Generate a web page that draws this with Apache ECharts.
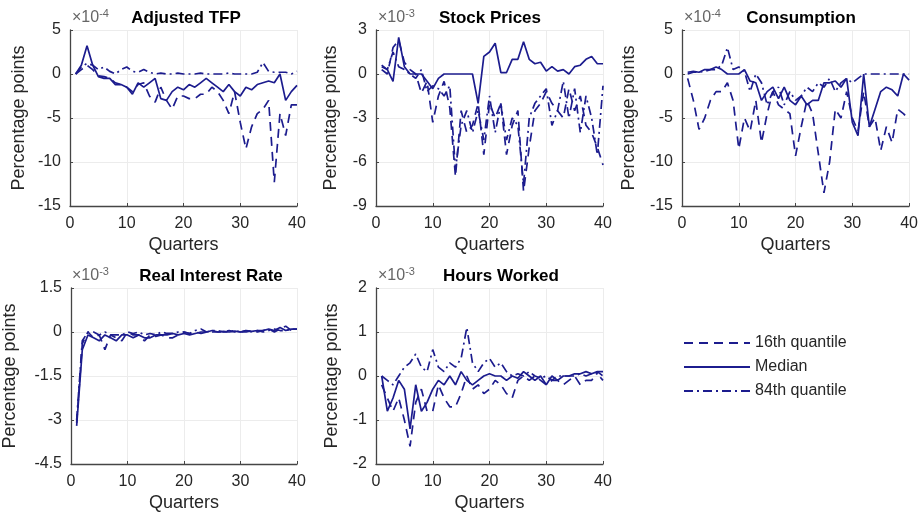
<!DOCTYPE html>
<html>
<head>
<meta charset="utf-8">
<script src="https://cdn.jsdelivr.net/npm/echarts@6/dist/echarts.min.js"></script>
<style>
html,body{margin:0;padding:0;background:#fff;}
#chart{width:921px;height:520px;}
</style>
</head>
<body>
<div id="chart"></div>
<script>
// ---------- data (in units of the axis multiplier) ----------
const quarters = [1,2,3,4,5,6,7,8,9,10,11,12,13,14,15,16,17,18,19,20,21,22,23,24,25,26,27,28,29,30,31,32,33,34,35,36,37,38,39,40];

const seriesNames = ['16th quantile', 'Median', '84th quantile'];
const panelTitles = ['Adjusted TFP', 'Stock Prices', 'Consumption', 'Real Interest Rate', 'Hours Worked'];
const panelExponents = ['-4', '-3', '-4', '-3', '-3'];
const yMins = [-15, -9, -15, -4.5, -2];
const yMaxs = [5, 3, 5, 1.5, 2];
const yIntervals = [5, 3, 5, 1.5, 1];
const xTicks = [0, 10, 20, 30, 40];

// Adjusted TFP (x1e-4)
const tfp16  = [0,0.5,1.0,0.5,-0.2,-0.3,-0.5,-1.0,-1.2,-1.5,-2.0,-1.2,-1.0,-2.5,-3.2,-1.5,-3.0,-4.0,-2.5,-2.5,-2.8,-2.8,-2.3,-2.3,-1.5,-2.0,-3.0,-4.5,-2.0,-5.5,-8.5,-6.0,-4.5,-4.0,-3.0,-12.3,-4.5,-7.0,-3.5,-3.5];
const tfpMed = [0,1.0,3.2,1.0,-0.3,-0.5,-0.5,-1.2,-1.2,-1.5,-2.3,-1.0,-1.5,-1.0,-0.5,-2.8,-3.0,-2.0,-1.5,-1.8,-1.2,-1.5,-1.0,-0.5,-1.0,-1.5,-2.0,-1.2,-2.0,-2.5,-1.5,-1.8,-1.2,-1.0,-0.8,-1.0,0.0,-3.0,-2.0,-1.3];
const tfp84  = [0,0.8,1.2,1.0,0.5,0.8,0.3,0,0.5,0.8,0.3,0.2,0.5,0.2,0,0.1,0,0,0.1,0,0,0,0.1,0,0,0,0,0.1,0,0,0,0,0.2,1.3,0.3,0.2,0.2,0.2,0,0.3];

// Stock Prices (x1e-3)
const stock16  = [0.3,0,1.8,2.3,0.8,0.3,0,-1.3,-0.5,-3.3,-1.5,-0.5,-2.3,-7.0,-2.5,-4.0,-3.5,-2.0,-5.5,-2.0,-3.0,-2.0,-5.5,-3.5,-2.5,-8.0,-5.0,-2.5,-2.0,-1.2,-2.0,-2.5,-3.0,-1.0,-2.5,-1.5,-3.5,-4.0,-5.0,-6.2];
const stockMed = [0.6,0.3,-0.5,2.5,0.5,0,0,0,-0.5,-1.0,-0.3,0,0,0,0,0,0,-2.0,1.2,1.5,2.1,0.1,0.1,1.0,1.0,2.2,1.0,0.7,0.8,0.2,0.5,0.2,0.3,0,0.5,0.6,1.0,1.2,0.7,0.7];
const stock84  = [0.5,0.3,1.5,0.5,0.3,0,-0.3,0.3,-1.2,-0.8,-1.0,-1.5,-0.8,-6.5,-3.5,-2.5,-4.0,-2.5,-4.5,-1.5,-4.0,-2.0,-4.5,-3.0,-3.5,-7.5,-3.0,-2.0,-1.5,-1.0,-3.5,-2.5,-0.5,-3.0,-1.0,-4.0,-1.5,-3.0,-5.5,-0.8];

// Consumption (x1e-4)
const cons16  = [-0.5,-3.0,-6.3,-5.0,-3.0,-2.0,-2.0,-1.0,-3.0,-8.5,-5.0,-6.5,-3.0,-7.8,-4.5,-2.0,-3.5,-4.0,-4.5,-9.3,-6.0,-3.0,-4.5,-9.0,-13.5,-10.0,-4.0,-5.0,-2.0,-5.0,-6.5,-2.0,-6.0,-5.0,-8.7,-6.0,-7.8,-4.0,-4.5,-5.2];
const consMed = [0.2,0.3,0.2,0.5,0.5,0.8,0.5,0,0,0,0.5,-0.8,-1.0,-3.0,-2.0,-1.5,-2.8,-1.5,-3.0,-3.5,-2.5,-3.5,-3.0,-3.0,-1.0,-1.0,-0.8,-1.5,-0.5,-5.5,-7.0,0,-6.0,-4.0,-2.0,-1.5,-1.8,-2.5,0,-0.7];
const cons84  = [0,0.2,0.2,0.3,0.5,0.5,1.0,3.0,0.5,0.8,0.3,-2.0,0,-1.0,-3.5,-2.0,-1.5,-3.5,-2.0,-3.0,-2.5,-1.5,-2.0,-1.0,-1.5,-0.5,-2.0,-1.0,-0.5,-1.0,-0.5,0,0,0,0,0,0,0,0,0];

// Real Interest Rate (x1e-3)
const rate16  = [-3.1,-0.4,0,-0.2,-0.1,-0.6,-0.1,-0.2,-0.3,0,-0.1,-0.1,-0.3,-0.1,-0.15,-0.1,-0.2,-0.2,-0.1,0,-0.05,0,-0.05,0,0,0,0,0.05,0,0,0,0.05,0,0.05,0.1,0,0.1,0.2,0.05,0.1];
const rateMed = [-3.2,-0.6,-0.1,-0.2,-0.3,-0.1,-0.2,-0.3,-0.1,-0.1,-0.2,-0.1,-0.2,-0.2,-0.1,-0.1,-0.1,-0.05,-0.1,-0.05,-0.1,-0.05,0,0,0.05,0,0.02,0,0.03,0,0.05,0.02,0.05,0.05,0.1,0.05,0.15,0.05,0.1,0.1];
const rate84  = [-3.0,-0.3,0,0,-0.1,0,-0.1,-0.1,-0.1,0,-0.05,0,-0.1,-0.05,-0.1,0,-0.05,-0.05,0,0,-0.05,0.05,0.1,0,0.05,0.05,0,0,0.05,0,0.05,0,0.05,0,0.05,0.1,0.05,0.05,0.1,0.1];

// Hours Worked (x1e-3)
const hours16  = [-0.2,-0.5,-0.8,-0.5,-1.0,-1.6,-0.6,-0.3,-0.8,-0.8,-0.2,-0.5,-0.7,-0.7,-0.4,0,-0.3,-0.2,-0.4,-0.3,-0.1,-0.2,-0.4,-0.5,-0.1,0,-0.1,0,-0.1,-0.2,-0.1,-0.1,-0.2,-0.1,0,-0.2,-0.1,-0.1,0.1,0];
const hoursMed = [0,-0.8,-0.5,-0.1,-0.3,-1.2,-0.2,-0.8,-0.6,-0.3,-0.1,-0.2,0,-0.2,0.1,-0.1,-0.2,-0.1,0,0.05,0,0,-0.1,0,-0.05,0.1,0,-0.1,0,-0.2,0,-0.1,0,0,0.05,0.05,0.1,0.05,0.1,0.1];
const hours84  = [0,-0.1,-0.2,0,0.2,0.3,0.5,0.2,0.1,0.6,0.2,0.1,0.3,0.2,0.4,1.1,0.3,0.1,0.3,0.4,0.2,0.3,0.1,0,0.05,0,0.1,0,-0.05,0,-0.1,0,0,0,0,0.05,0,0.05,0.05,-0.1];

const panelData = [
  [tfp16, tfpMed, tfp84],
  [stock16, stockMed, stock84],
  [cons16, consMed, cons84],
  [rate16, rateMed, rate84],
  [hours16, hoursMed, hours84]
];

// ---------- layout & style ----------
const FONT = '"Liberation Sans", Arial, Helvetica, sans-serif';
const LINE_COLOR = '#1c1c8e';
const AXIS_COLOR = '#454545';
const TEXT_COLOR = '#262626';
const layout = [
  {left: 70,  top: 30,  width: 227, height: 176, nameGap: 42, titleX: 186},
  {left: 376, top: 30,  width: 227, height: 176, nameGap: 36, titleX: 490},
  {left: 682, top: 30,  width: 228, height: 176, nameGap: 44, titleX: 801},
  {left: 70,  top: 288, width: 227, height: 176, nameGap: 52, titleX: 211},
  {left: 376, top: 288, width: 227, height: 176, nameGap: 35, titleX: 501}
];
const lineTypes = [[9, 6], 'solid', [9, 4, 2, 4]];

const grids = [], xAxes = [], yAxes = [], series = [], titles = [];
layout.forEach((g, i) => {
  grids.push({left: g.left, top: g.top, width: g.width, height: g.height, containLabel: false});
  xAxes.push({
    type: 'value', gridIndex: i, min: xTicks[0], max: xTicks[xTicks.length - 1], interval: 10,
    name: 'Quarters', nameLocation: 'middle', nameGap: 30,
    nameTextStyle: {fontFamily: FONT, fontSize: 18, color: TEXT_COLOR},
    axisLine: {show: true, onZero: false, lineStyle: {color: AXIS_COLOR, width: 1.3}},
    axisTick: {show: true, inside: true, length: 3, lineStyle: {color: AXIS_COLOR}},
    axisLabel: {fontFamily: FONT, fontSize: 16, color: TEXT_COLOR, margin: 10},
    splitLine: {show: true, lineStyle: {color: '#ececec', width: 1}}
  });
  yAxes.push({
    type: 'value', gridIndex: i, min: yMins[i], max: yMaxs[i], interval: yIntervals[i],
    name: 'Percentage points', nameLocation: 'middle', nameGap: g.nameGap, nameRotate: 90,
    nameTextStyle: {fontFamily: FONT, fontSize: 18, color: TEXT_COLOR},
    axisLine: {show: true, onZero: false, lineStyle: {color: AXIS_COLOR, width: 1.3}},
    axisTick: {show: true, inside: true, length: 3, lineStyle: {color: AXIS_COLOR}},
    axisLabel: {fontFamily: FONT, fontSize: 16, color: TEXT_COLOR, margin: 9},
    splitLine: {show: true, lineStyle: {color: '#ececec', width: 1}}
  });
  panelData[i].forEach((vals, k) => {
    series.push({
      name: seriesNames[k], type: 'line', xAxisIndex: i, yAxisIndex: i,
      data: quarters.map((q, j) => [q, vals[j]]),
      symbol: 'none', animation: false,
      lineStyle: {color: LINE_COLOR, width: 1.7, type: lineTypes[k]},
      itemStyle: {color: LINE_COLOR}
    });
  });
  titles.push({
    text: panelTitles[i], left: g.titleX, top: g.top - 20, textAlign: 'center', padding: 0,
    textStyle: {fontFamily: FONT, fontSize: 17, fontWeight: 'bold', color: '#000'}
  });
  titles.push({
    text: '{a|\u00d710}{b|' + panelExponents[i] + '}', left: g.left + 2, top: g.top - 22, padding: 0,
    textStyle: {fontWeight: 'normal', rich: {
      a: {fontFamily: FONT, fontSize: 16, fontWeight: 'normal', color: '#666666', verticalAlign: 'bottom', lineHeight: 18},
      b: {fontFamily: FONT, fontSize: 11, fontWeight: 'normal', color: '#666666', verticalAlign: 'top', padding: [0, 0, 6, 0], lineHeight: 18}
    }}
  });
});

const chart = echarts.init(document.getElementById('chart'), null, {renderer: 'canvas'});
chart.setOption({
  backgroundColor: '#ffffff',
  animation: false,
  title: titles,
  grid: grids,
  xAxis: xAxes,
  yAxis: yAxes,
  series: series,
  legend: {
    data: seriesNames, orient: 'vertical', left: 683, top: 335,
    itemWidth: 66, itemHeight: 14, itemGap: 8, padding: 0,
    itemStyle: {color: 'rgba(0,0,0,0)', borderWidth: 0, opacity: 0},
    textStyle: {fontFamily: FONT, fontSize: 16, color: TEXT_COLOR},
    selectedMode: false
  }
});
</script>
</body>
</html>
